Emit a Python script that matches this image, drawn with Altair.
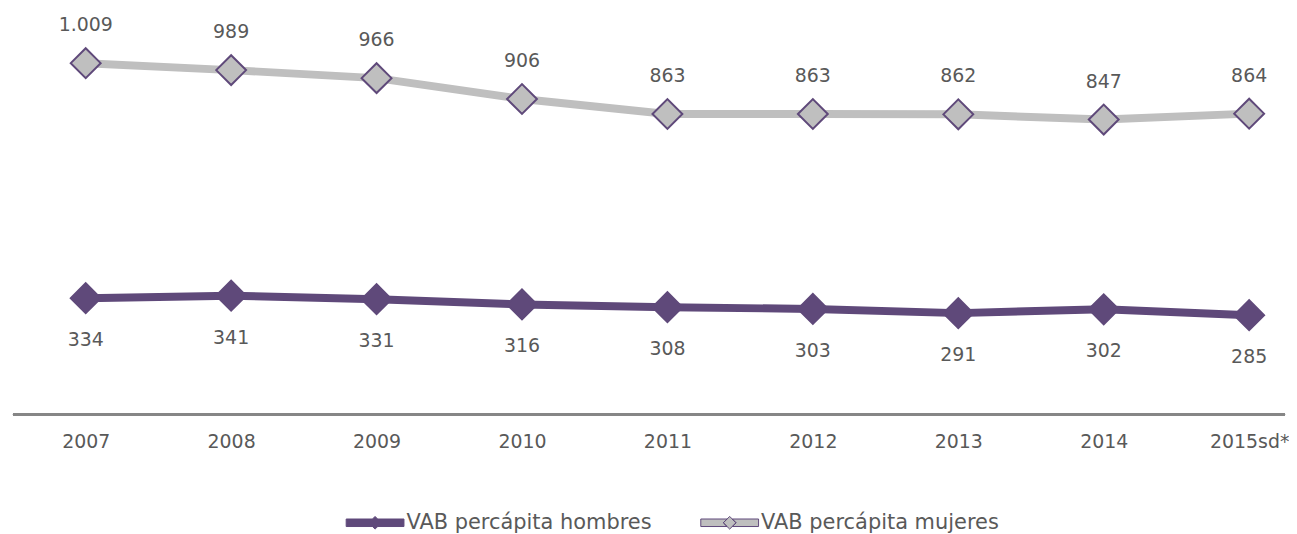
import altair as alt
import pandas as pd

years = ["2007", "2008", "2009", "2010", "2011", "2012", "2013", "2014", "2015sd*"]
hombres = [334, 341, 331, 316, 308, 303, 291, 302, 285]
mujeres = [1009, 989, 966, 906, 863, 863, 862, 847, 864]
series = ["VAB percápita hombres", "VAB percápita mujeres"]

PURPLE = "#5f497a"
GRAY = "#bfbfbf"
TEXT = "#595959"
FONT = "DejaVu Sans"

rows = []
for y, h, m in zip(years, hombres, mujeres):
    rows.append({"year": y, "serie": series[0], "value": h, "label": f"{h:,}".replace(",", ".")})
    rows.append({"year": y, "serie": series[1], "value": m, "label": f"{m:,}".replace(",", ".")})
df = pd.DataFrame(rows)

W, H = 1277, 407

x = alt.X("year:N", sort=years, title=None,
          scale=alt.Scale(type="point", domain=years, range=[73, 1241], padding=0),
          axis=alt.Axis(labelAngle=0, ticks=False, grid=False, domain=False,
                        labelFont=FONT, labelFontSize=19, labelColor=TEXT,
                        labelPadding=18))
y = alt.Y("value:Q", title=None, scale=alt.Scale(domain=[0, 1164.5], nice=False, zero=True),
          axis=None)

base = alt.Chart(df).encode(x=x, y=y)

axis_line = alt.Chart(df).mark_rule(color="#868686", strokeWidth=2).encode(
    x=alt.value(0), x2=alt.value(W), y=alt.value(H))

line_h = base.transform_filter(alt.datum.serie == series[0]).mark_line(
    strokeWidth=8, strokeJoin="round", color=PURPLE)
line_m = base.transform_filter(alt.datum.serie == series[1]).mark_line(
    strokeWidth=8, strokeJoin="round", color=GRAY)

legend_path = ("M-1,-0.13 L-0.09,-0.13 L-0.22,0 L-0.09,0.13 L-1,0.13 Z "
               "M1,-0.13 L0.09,-0.13 L0.22,0 L0.09,0.13 L1,0.13 Z "
               "M0,-0.22 L0.22,0 L0,0.22 L-0.22,0 Z")

points = base.mark_point(shape="diamond", size=900, filled=True, stroke=PURPLE,
                         strokeWidth=2, opacity=1).encode(
    fill=alt.Fill("serie:N", scale=alt.Scale(domain=series, range=[PURPLE, GRAY]),
                  legend=alt.Legend(title=None, orient="none", direction="horizontal",
                                    legendX=334, legendY=486, padding=0,
                                    symbolType=legend_path, symbolSize=3364,
                                    symbolStrokeColor=PURPLE, symbolStrokeWidth=1,
                                    labelOffset=2, labelLimit=0, columnPadding=46)),
)

labels_m = base.transform_filter(alt.datum.serie == series[1]).mark_text(
    dy=-38, font=FONT, fontSize=19, color=TEXT).encode(text="label:N")
labels_h = base.transform_filter(alt.datum.serie == series[0]).mark_text(
    dy=42, font=FONT, fontSize=19, color=TEXT).encode(text="label:N")

chart = alt.layer(axis_line, line_m, line_h, points, labels_m, labels_h).properties(
    width=W, height=H, padding={"left": 4, "top": 0, "right": 0, "bottom": 0}
).configure(background="white").configure_view(strokeWidth=0).configure_legend(
    labelFont=FONT, labelFontSize=21, labelColor=TEXT, symbolOpacity=1
)

chart.save("out.html", embed_options={"renderer": "svg", "actions": False})
